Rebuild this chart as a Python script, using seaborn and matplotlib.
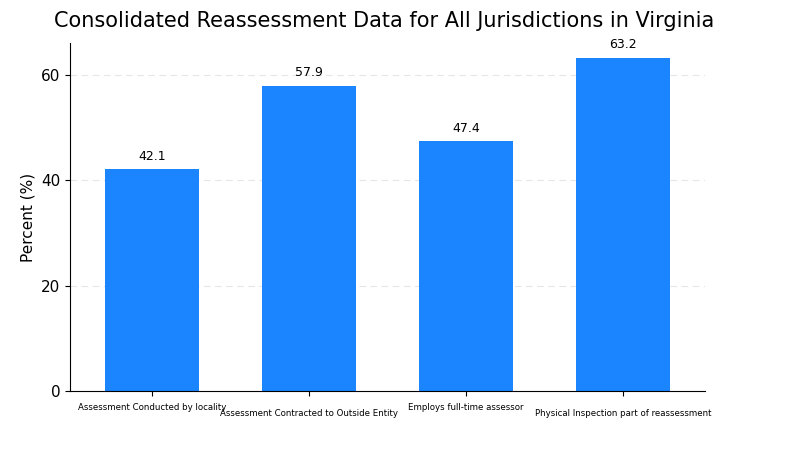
import matplotlib
matplotlib.use("Agg")
import matplotlib.pyplot as plt
import seaborn as sns
import pandas as pd

categories = ["Assessment Conducted by locality", "Assessment Contracted to Outside Entity",
              "Employs full-time assessor", "Physical Inspection part of reassessment"]
values = [42.1, 57.9, 47.4, 63.2]
yticks = [0, 20, 40, 60]

df = pd.DataFrame({"cat": categories, "val": values})
fig = plt.figure(figsize=(8, 4.5), dpi=100)
ax = fig.add_axes([70/800, 1-391/450, 635/800, 348/450])
sns.barplot(data=df, x="cat", y="val", color="#1a85ff", saturation=1, width=0.6, ax=ax)
ax.set_xlim(-0.52, 3.52)
ax.set_ylim(0, 66)
ax.set_yticks(yticks)
ax.tick_params(axis="y", labelsize=11)
for y in yticks[1:]:
    ax.axhline(y, color="#e6e6e6", lw=0.8, ls=(0, (6, 4)), zorder=0)
for i, v in enumerate(values):
    ax.text(i, v + 1.2, f"{v}", ha="center", va="bottom", fontsize=9)
ax.set_xticks(range(4))
ax.set_xticklabels([])
for i, c in enumerate(categories):
    ax.text(i, -2.3 if i % 2 == 0 else -3.5, c, ha="center", va="top", fontsize=6.2,
            transform=ax.transData)
ax.set_xlabel("")
ax.set_ylabel("Percent (%)", fontsize=11)
for s in ["top", "right"]:
    ax.spines[s].set_visible(False)
fig.suptitle("Consolidated Reassessment Data for All Jurisdictions in Virginia", fontsize=15, y=0.975, x=0.48)
fig.savefig("out.png", dpi=100)
